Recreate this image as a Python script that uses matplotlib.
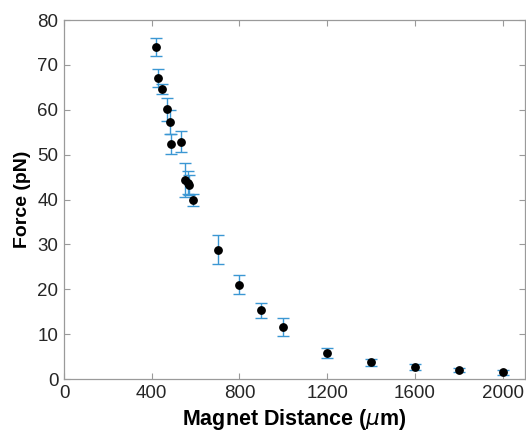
import numpy as np
import matplotlib.pyplot as plt

# magnet distance (um), force (pN), error (pN)
distance = [421, 429, 449, 471, 482, 490, 532, 550, 564, 571, 588,
            700, 800, 900, 1000, 1200, 1400, 1600, 1800, 2000]
force = [74.0, 67.0, 64.7, 60.1, 57.3, 52.3, 52.9, 44.3, 43.8, 43.2, 39.9,
         28.8, 21.0, 15.3, 11.6, 5.8, 3.7, 2.6, 2.0, 1.5]
force_err = [2.0, 2.0, 1.1, 2.5, 2.7, 2.2, 2.4, 3.8, 2.5, 2.2, 1.4,
             3.2, 2.1, 1.6, 2.1, 1.2, 0.7, 0.7, 0.5, 0.5]

xticks = [0, 400, 800, 1200, 1600, 2000]
yticks = [0, 10, 20, 30, 40, 50, 60, 70, 80]

plt.rcParams['font.family'] = ['Liberation Sans', 'DejaVu Sans']

fig = plt.figure(figsize=(5.26, 4.34), dpi=100)
ax = fig.add_axes([0.1217, 0.1267, 0.8755, 0.827])

ax.errorbar(distance, force, yerr=force_err, fmt='none', ecolor='#3b97d3',
            elinewidth=1.0, capsize=4.5, capthick=1.0, zorder=2)
ax.plot(distance, force, 'o', color='black', markersize=5.3, zorder=3)

ax.set_xlim(0, 2100)
ax.set_ylim(0, 80)
ax.set_xticks(xticks)
ax.set_yticks(yticks)

for s in ax.spines.values():
    s.set_color('#9a9a9a')
    s.set_linewidth(0.9)
ax.tick_params(direction='in', length=4, width=0.8, color='#9a9a9a',
               labelsize=13.5, labelcolor='#262626', top=True, right=True,
               pad=4)

ax.set_xlabel(r'Magnet Distance ($\mu$m)', fontsize=15.5, fontweight='bold',
              labelpad=4)
ax.set_ylabel('Force (pN)', fontsize=14, fontweight='bold', labelpad=5)

fig.savefig('out.png', dpi=100, facecolor='white')
